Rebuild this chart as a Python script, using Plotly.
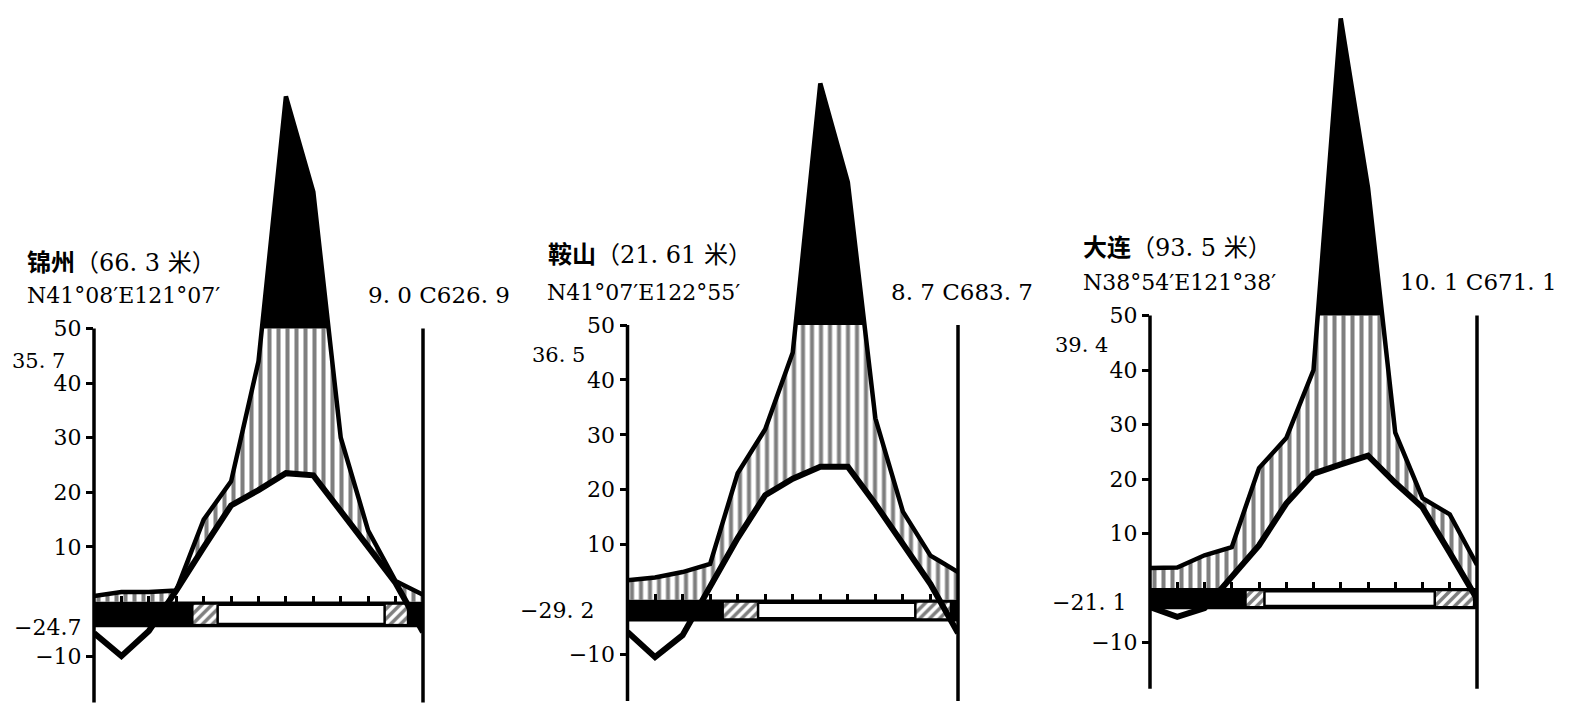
import numpy as np
import plotly.graph_objects as go

# ---------------- data ----------------
months = [0, 1, 2, 3, 4, 5, 6, 7, 8, 9, 10, 11, 12]   # 0 = previous Dec, 1..12 = Jan..Dec

stations = ["锦州", "鞍山", "大连"]
elevations = ["66. 3", "21. 61", "93. 5"]
coords = ["N41°08′E121°07′", "N41°07′E122°55′", "N38°54′E121°38′"]
mean_temp = ["9. 0", "8. 7", "10. 1"]
annual_precip = ["626. 9", "683. 7", "671. 1"]
abs_max = ["35. 7", "36. 5", "39. 4"]
abs_min = ["−24.7", "−29. 2", "−21. 1"]

temp_jinzhou = [-5.8, -10.0, -5.4, 2.0, 9.9, 17.6, 20.4, 23.5, 23.1, 16.7, 10.0, 3.4, -5.6]
prec_jinzhou = [2.0, 3.5, 3.5, 4.0, 30, 44, 88, 185, 150, 60, 26, 7.5, 2.5]
temp_anshan = [-5.9, -10.5, -6.5, 2.6, 11.2, 19.0, 22.0, 24.2, 24.2, 17.4, 10.0, 2.8, -6.1]
prec_anshan = [7, 8, 10, 13, 46, 62, 90, 188, 152, 66, 32, 16, 10]
temp_dalian = [-3.5, -5.3, -3.7, 2.0, 7.8, 15.5, 21.0, 22.7, 24.3, 19.3, 14.8, 6.5, -2.0]
prec_dalian = [7.3, 7.5, 12, 15, 44, 55, 80, 209, 147, 57, 33, 27, 8.5]

# frost bar: [end of frost months, start of frost-free, end of frost-free, start of frost months]
frost_jinzhou = [3.63, 4.51, 10.6, 11.41]
frost_anshan = [3.5, 4.74, 10.45, 11.7]
frost_dalian = [3.55, 4.2, 10.45, 11.85]

temps = [temp_jinzhou, temp_anshan, temp_dalian]
precs = [prec_jinzhou, prec_anshan, prec_dalian]
frosts = [frost_jinzhou, frost_anshan, frost_dalian]

temp_ticks = [50, 40, 30, 20, 10, -10]
prec_ticks = [100, 80, 60, 40, 20, -20]
prec_ticktext = ["100", "80", "60", "40", "20", ""]

# ---------------- layout (pixels) ----------------
W, H = 1586, 710
panels = [
    dict(left=94, right=423, zero=601.5, scale=5.46, bar=4.7),
    dict(left=627.5, right=958, zero=599.5, scale=5.49, bar=4.0),
    dict(left=1150, right=1477, zero=588, scale=5.45, bar=3.9),
]
texts = [
    dict(name=(25, 263), coord=(25, 295), summ=(366, 295), mx=(10, 361), mn=(12, 627)),
    dict(name=(546, 255), coord=(545, 292), summ=(889, 292), mx=(530, 355), mn=(518, 610)),
    dict(name=(1081, 248), coord=(1081, 282), summ=(1398, 282), mx=(1053, 345), mn=(1050, 602)),
]
AXIS_BOTTOM = -18.5
SERIF = "DejaVu Serif, Noto Sans CJK SC"


def densify(x, T, P):
    x = np.asarray(x, float)
    T = np.asarray(T, float)
    P = np.asarray(P, float)
    xs = list(x)
    for i in range(len(x) - 1):
        for arr, lvl in ((P, 100.0), (T, 0.0)):
            a, b = arr[i] - lvl, arr[i + 1] - lvl
            if a * b < 0:
                xs.append(x[i] + (x[i + 1] - x[i]) * a / (a - b))
    xs = np.unique(xs)
    return xs, np.interp(xs, x, T), np.interp(xs, x, P)


fig = go.Figure()
layout = {}
shapes = []
annotations = []

for i in range(3):
    p = panels[i]
    xa = "x" if i == 0 else f"x{i + 1}"
    yl = f"y{2 * i + 1}" if i else "y"
    ymax = p["zero"] / p["scale"]
    ymin = -(H - p["zero"]) / p["scale"]
    T, P, F = temps[i], precs[i], frosts[i]
    bh = p["bar"]
    ins = 0.6

    # frost bar
    fig.add_trace(go.Scatter(x=[0, 12, 12, 0, 0], y=[0, 0, -bh, -bh, 0], fill="toself",
                             fillcolor="black", line=dict(width=0), mode="lines",
                             xaxis=xa, yaxis=yl, hoverinfo="skip", showlegend=False))
    for a, b in ((F[0], F[1]), (F[2], F[3])):
        fig.add_trace(go.Scatter(x=[a, b, b, a, a], y=[-ins, -ins, -bh + ins, -bh + ins, -ins],
                                 fill="toself", fillcolor="white",
                                 fillpattern=dict(shape="/", fgcolor="black", bgcolor="white",
                                                  size=7, solidity=0.5),
                                 line=dict(width=0), mode="lines",
                                 xaxis=xa, yaxis=yl, hoverinfo="skip", showlegend=False))
    fig.add_trace(go.Scatter(x=[F[1], F[2], F[2], F[1], F[1]],
                             y=[-ins, -ins, -bh + ins, -bh + ins, -ins],
                             fill="toself", fillcolor="white", line=dict(width=2.5, color="black"),
                             mode="lines", xaxis=xa, yaxis=yl, hoverinfo="skip", showlegend=False))

    xs, Td, Pd = densify(months, T, P)
    lower = np.maximum(Td, 0)
    capped = np.minimum(Pd, 100) / 2
    full = Pd / 2
    fig.add_trace(go.Scatter(x=xs, y=lower, mode="lines", line=dict(width=0),
                             xaxis=xa, yaxis=yl, hoverinfo="skip", showlegend=False))
    fig.add_trace(go.Scatter(x=xs, y=capped, mode="lines", line=dict(width=0), fill="tonexty",
                             fillcolor="white",
                             fillpattern=dict(shape="|", fgcolor="black", bgcolor="white",
                                              size=9, solidity=0.45),
                             xaxis=xa, yaxis=yl, hoverinfo="skip", showlegend=False))
    fig.add_trace(go.Scatter(x=xs, y=full, mode="lines", line=dict(width=4.5, color="black"),
                             fill="tonexty", fillcolor="black",
                             xaxis=xa, yaxis=yl, hoverinfo="skip", showlegend=False))
    fig.add_trace(go.Scatter(x=months, y=T, mode="lines", line=dict(width=6, color="black"),
                             xaxis=xa, yaxis=yl, hoverinfo="skip", showlegend=False))

    dom = [p["left"] / W, p["right"] / W]
    kx = "xaxis" if i == 0 else f"xaxis{i + 1}"
    kyl = "yaxis" if i == 0 else f"yaxis{2 * i + 1}"
    kyr = f"yaxis{2 * i + 2}"
    layout[kx] = dict(domain=dom, range=[0, 12], anchor="free",
                      position=(0 - ymin) / (ymax - ymin),
                      tickvals=list(range(1, 12)), ticks="inside", ticklen=6, tickwidth=3,
                      tickcolor="black", showticklabels=False, showgrid=False,
                      zeroline=False, showline=False)
    layout[kyl] = dict(domain=[0, 1], range=[ymin, ymax], anchor=xa, side="left",
                       tickvals=temp_ticks, ticks="outside", ticklen=7, tickwidth=3,
                       tickcolor="black", showgrid=False, zeroline=False, showline=False,
                       tickfont=dict(family=SERIF, size=22, color="black"))
    layout[kyr] = dict(range=[2 * ymin, 2 * ymax], anchor=xa, overlaying=yl, side="right",
                       tickvals=prec_ticks, ticktext=prec_ticktext, ticks="outside",
                       ticklen=7, tickwidth=3, tickcolor="black", showgrid=False,
                       zeroline=False, showline=False,
                       tickfont=dict(family=SERIF, size=22, color="black"))

    # axis lines (x in paper units so the line is not clipped at the plot edge)
    for xp in dom:
        shapes.append(dict(type="line", xref="paper", yref=yl, x0=xp, x1=xp, y0=50,
                           y1=AXIS_BOTTOM, line=dict(color="black", width=3.5)))

    t = texts[i]

    def ann(txt, pos, size):
        annotations.append(dict(text=txt, x=pos[0] / W, y=1 - pos[1] / H, xref="paper",
                                yref="paper", xanchor="left", yanchor="middle",
                                showarrow=False, font=dict(family=SERIF, size=size, color="black")))
    ann(f"<b>{stations[i]}</b>（{elevations[i]} 米）", t["name"], 24)
    ann(coords[i], t["coord"], 22)
    ann(f"{mean_temp[i]} C{annual_precip[i]}", t["summ"], 23)
    ann(abs_max[i], t["mx"], 21)
    ann(abs_min[i], t["mn"], 22)

fig.update_layout(width=W, height=H, margin=dict(l=0, r=0, t=0, b=0),
                  paper_bgcolor="white", plot_bgcolor="rgba(0,0,0,0)",
                  showlegend=False, shapes=shapes, annotations=annotations, **layout)
fig.write_html("out.html", config={"displayModeBar": False},
               post_script="document.body.style.margin='0px';")
